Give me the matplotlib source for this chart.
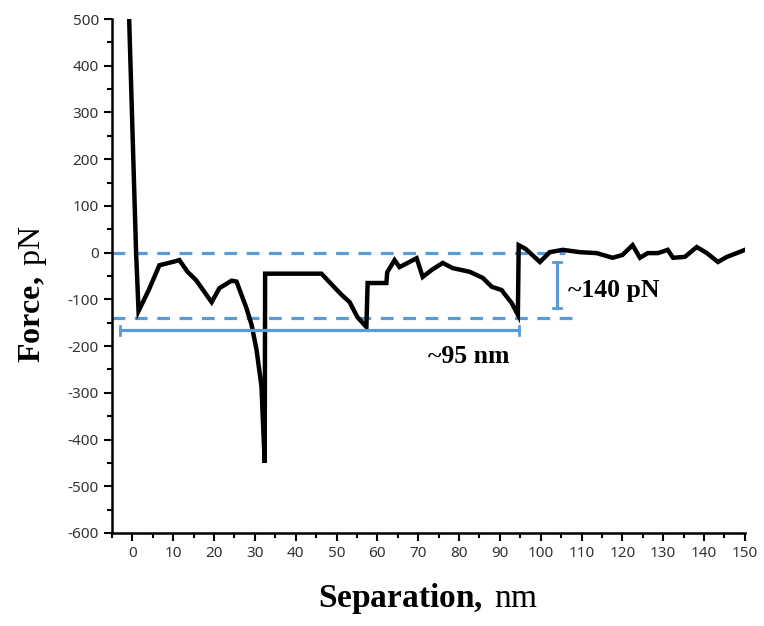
import matplotlib
matplotlib.use("Agg")
import matplotlib.pyplot as plt
from matplotlib.ticker import MultipleLocator

# Force-separation curve
separation = [-0.8, 0.9, 1.5, 4, 6.6, 9.8, 11.5, 13.5, 15.6, 19.4, 21.3, 24.3, 25.5,
              27.9, 29.2, 30.4, 31.6, 32.4, 32.5, 46.3, 49, 51.2, 53.2, 55.1, 57.3, 57.6,
              62.2, 62.4, 64.2, 65.4, 67.4, 69.6, 71.1, 73.3, 76, 78.4, 82.6, 85.8, 88,
              90.4, 92.9, 94.4, 94.6, 96.3, 99.8, 102.2, 105.4, 109.6, 113.7, 117.6, 120,
              122.5, 124.3, 126.2, 128.7, 131.1, 132.4, 135.3, 138.2, 140.7, 143.4, 145.6,
              148, 150]
force = [500, 0, -125, -80, -27, -20, -16, -41, -59, -106, -76, -60, -62,
         -118, -155, -208, -286, -450, -45, -45, -70, -90, -106, -138, -159, -65,
         -65, -42, -16, -31, -22, -12, -52, -37, -22, -33, -41, -54, -73,
         -80, -108, -133, 16, 8, -20, 1, 6, 1, -1, -11, -5,
         16, -11, -1, -1, 6, -11, -9, 12, -1, -20, -9,
         -1, 6]

# annotation levels
ref_levels = [0, -140]
ref_ends = [106, 109]
span_nm = [-3, 94.6]
span_y = -166
drop_x = 104
drop_range = [-20, -118]
blue = "#5B9BD5"

plt.rcParams["mathtext.fontset"] = "custom"
plt.rcParams["mathtext.rm"] = "Liberation Serif"
plt.rcParams["mathtext.bf"] = "Liberation Serif:bold"
plt.rcParams["axes.unicode_minus"] = False

fig = plt.figure(figsize=(7.64, 6.26), dpi=100)
ax = fig.add_axes([0.1466, 0.1486, 0.8284, 0.821])

for lvl, x_end in zip(ref_levels, ref_ends):
    ax.plot([-5, x_end], [lvl, lvl], color=blue, lw=2.3, ls=(0, (4, 3)))

ax.plot(separation, force, color="black", lw=3.2, solid_joinstyle="miter")

# ~95 nm span bar
ax.plot(span_nm, [span_y, span_y], color=blue, lw=2.3)
for xx in span_nm:
    ax.plot([xx, xx], [span_y - 10, span_y + 10], color=blue, lw=2)
# ~140 pN bar
ax.plot([drop_x, drop_x], drop_range, color=blue, lw=2.3)
for yy in drop_range:
    ax.plot([drop_x - 1, drop_x + 1], [yy, yy], color=blue, lw=2)

ax.text(82.4, -222, "~95 nm", family="Liberation Serif", fontweight="bold",
        fontsize=18.5, ha="center", va="center")
ax.text(106.6, -80, "~140 pN", family="Liberation Serif", fontweight="bold",
        fontsize=18.5, ha="left", va="center")

ax.set_xlim(-5, 150)
ax.set_ylim(-600, 500)
ax.xaxis.set_major_locator(MultipleLocator(10))
ax.xaxis.set_minor_locator(MultipleLocator(5))
ax.yaxis.set_major_locator(MultipleLocator(100))
ax.yaxis.set_minor_locator(MultipleLocator(50))
ax.tick_params(which="major", direction="out", length=6, width=1.5, labelsize=11,
               colors="black", labelcolor="#333333")
ax.tick_params(which="minor", direction="out", length=3.5, width=1.5)
for lab in ax.get_xticklabels() + ax.get_yticklabels():
    lab.set_family("Noto Sans")

for side in ["top", "right"]:
    ax.spines[side].set_visible(False)
for side in ["left", "bottom"]:
    ax.spines[side].set_linewidth(1.8)

ax.set_xlabel(r"$\mathbf{Separation,}\,\mathrm{nm}$", fontsize=24, labelpad=14)
ax.set_ylabel(r"$\mathbf{Force,}\,\mathrm{pN}$", fontsize=23, labelpad=12)
ax.yaxis.set_label_coords(-0.10, 0.465)

fig.savefig("out.png", dpi=100)
